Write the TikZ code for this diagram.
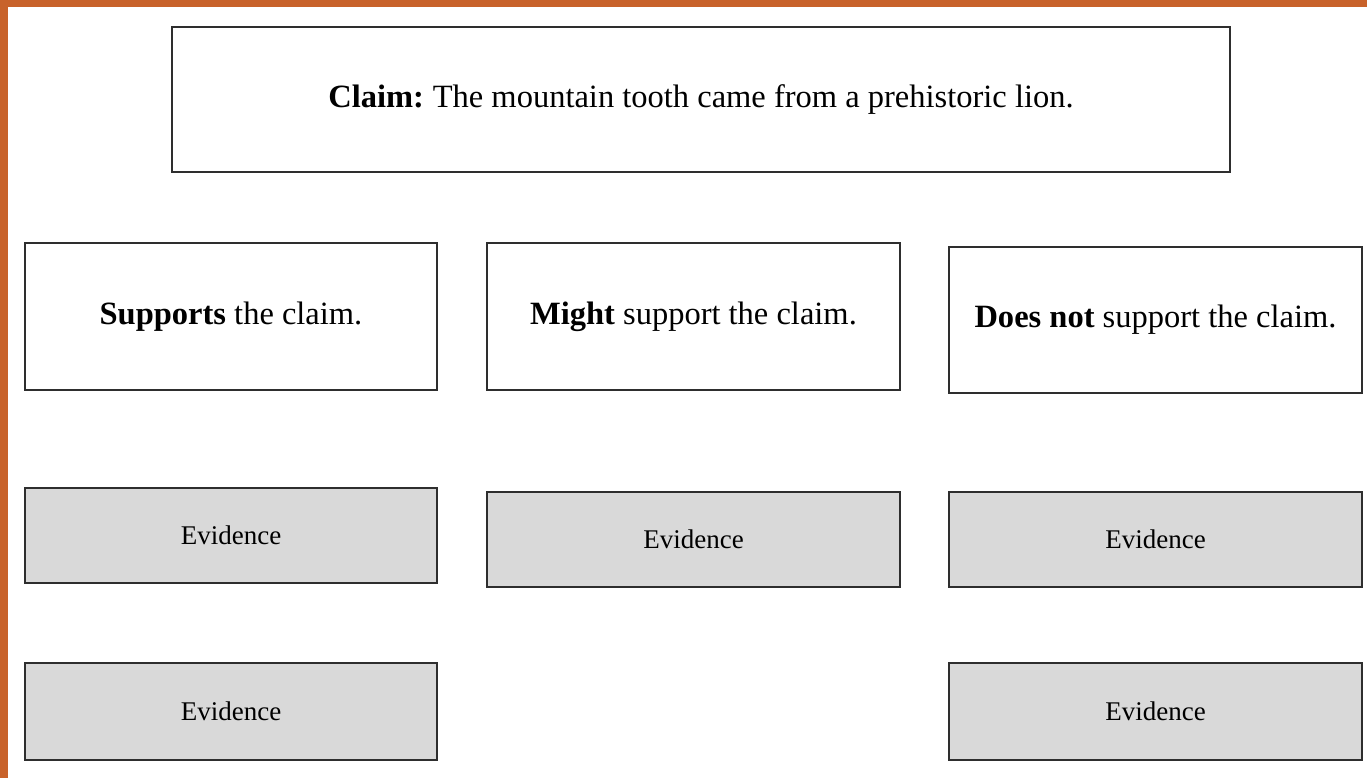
\documentclass[tikz,border=0pt]{standalone}
\usepackage{fontspec}
\setmainfont{Liberation Serif}
\definecolor{frameorange}{HTML}{C8622A}
\definecolor{boxline}{HTML}{2E2E2E}
\definecolor{evfill}{HTML}{D9D9D9}
\begin{document}
\begin{tikzpicture}[x=1pt,y=-1pt,
  box/.style={draw=boxline,line width=1.8pt,fill=white,inner sep=0pt,font=\fontsize{32.5}{38}\selectfont},
  evbox/.style={draw=boxline,line width=1.8pt,fill=evfill,inner sep=0pt,font=\fontsize{27}{32}\selectfont}]
\useasboundingbox (0,0) rectangle (1367,778);
\fill[white] (0,0) rectangle (1367,778);
\fill[frameorange] (0,0) rectangle (1367,7);
\fill[frameorange] (0,0) rectangle (8,778);
% claim
\node[box,minimum width=1058pt,minimum height=145pt] (claim) at (701,99.5) {\textbf{Claim:}\hspace{-2pt} The mountain tooth came from a prehistoric lion.};
\node[box,minimum width=412pt,minimum height=147pt] (sup) at (231,316.5) {\raisebox{1pt}{\textbf{Supports} the claim.}};
\node[box,minimum width=413pt,minimum height=147pt] (might) at (693.5,316.5) {\raisebox{4pt}{\textbf{Might} support the claim.}};
\node[box,minimum width=413pt,minimum height=146pt] (not) at (1155.5,320) {\textbf{Does not} support the claim.};
\node[evbox,minimum width=412pt,minimum height=95pt] (ev1) at (231,535.5) {Evidence};
\node[evbox,minimum width=413pt,minimum height=95pt] (ev2) at (693.5,539.5) {Evidence};
\node[evbox,minimum width=413pt,minimum height=95pt] (ev3) at (1155.5,539.5) {Evidence};
\node[evbox,minimum width=412pt,minimum height=97pt] (ev4) at (231,711.5) {Evidence};
\node[evbox,minimum width=413pt,minimum height=97pt] (ev5) at (1155.5,711.5) {Evidence};
\end{tikzpicture}
\end{document}
